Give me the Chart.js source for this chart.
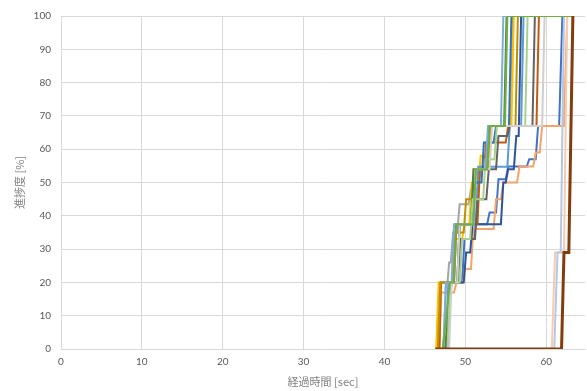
<!DOCTYPE html>
<html>
<head>
<meta charset="utf-8">
<script src="https://cdn.jsdelivr.net/npm/chart.js@4/dist/chart.umd.min.js"></script>
<style>
  html, body { margin: 0; padding: 0; background: #ffffff; }
  #wrap { width: 587px; height: 391px; }
</style>
</head>
<body>
<div id="wrap"><canvas id="c" width="587" height="391"></canvas></div>
<script>
// Axis ranges
const xMin = 0, xMax = 64.8, xStep = 10;
const yMin = 0, yMax = 100, yStep = 10;

// Progress of each run: [elapsed sec, progress %]
const run01 = [[46.3,0],[47.9,0],[48.2,20],[49.6,20],[49.9,33],[51.0,33],[51.3,37.5],[52.7,37.5],[53.0,41],[53.8,41],[54.1,51],[55.0,51],[55.3,54.8],[57.6,54.8],[57.9,57],[58.7,57],[59.0,67],[61.6,67],[62.0,100],[63.3,100]];
const run02 = [[46.3,0],[46.8,0],[47.0,17],[48.6,17],[48.9,20],[49.7,20],[50.0,24],[50.7,24],[51.0,36],[53.5,36],[53.8,45],[54.4,45],[54.7,50],[56.4,50],[56.7,54.8],[58.4,54.8],[58.7,59],[59.2,59],[59.5,67],[62.2,67],[62.6,100],[63.3,100]];
const run03 = [[46.3,0],[47.3,0],[47.6,20],[47.8,20],[48.0,26],[48.2,26],[48.5,35],[49.0,35],[49.3,43.5],[50.4,43.5],[50.7,48],[51.6,48],[51.9,54],[52.7,54],[53.0,67],[55.6,67],[55.9,100],[63.3,100]];
const run04 = [[46.3,0],[46.4,0],[46.7,20],[48.4,20],[48.7,33],[49.6,33],[49.9,37.5],[50.5,37.5],[50.8,50],[51.6,50],[51.9,58],[52.9,58],[53.2,67],[55.7,67],[56.0,100],[63.3,100]];
const run05 = [[46.3,0],[47.6,0],[47.9,20],[48.5,20],[48.8,37.5],[51.3,37.5],[51.6,54.7],[55.2,54.7],[55.5,67],[56.9,67],[57.2,100],[63.3,100]];
const run06 = [[46.3,0],[47.8,0],[48.1,20],[49.8,20],[50.1,29],[50.6,29],[50.9,37.5],[54.4,37.5],[54.7,50],[55.0,50],[55.3,54],[56.0,54],[56.3,64],[56.6,64],[56.9,100],[63.3,100]];
const run07 = [[46.3,0],[46.8,0],[47.0,20],[48.6,20],[48.9,37.5],[51.5,37.5],[51.8,54],[52.3,54],[52.6,62],[55.0,62],[55.3,67],[58.8,67],[59.1,100],[63.3,100]];
const run08 = [[46.3,0],[47.9,0],[48.2,20],[49.1,20],[49.4,33],[51.2,33],[51.5,45],[52.6,45],[52.9,54],[53.8,54],[54.1,64],[55.2,64],[55.5,67],[58.3,67],[58.6,100],[63.3,100]];
const run09 = [[46.3,0],[46.6,0],[46.9,20],[48.4,20],[48.7,35],[49.8,35],[50.1,45],[51.0,45],[51.3,54],[52.8,54],[53.1,67],[56.2,67],[56.5,100],[63.3,100]];
const run10 = [[46.3,0],[47.9,0],[48.2,20],[49.0,20],[49.3,37.5],[50.8,37.5],[51.1,50],[52.0,50],[52.3,62],[53.5,62],[53.8,67],[55.4,67],[55.7,100],[63.3,100]];
const run11 = [[46.3,0],[47.5,0],[48.3,20],[49.0,20],[49.3,37.5],[50.7,37.5],[51.0,54],[52.6,54],[52.9,67],[54.8,67],[55.1,100],[63.3,100]];
const run12 = [[46.3,0],[47.8,0],[48.1,20],[49.3,20],[49.6,33],[50.6,33],[50.9,45],[52.2,45],[52.5,57],[53.6,57],[53.9,67],[57.4,67],[57.7,100],[63.3,100]];
const run13 = [[46.3,0],[47.3,0],[47.6,20],[48.3,20],[48.6,37.5],[51.0,37.5],[51.3,54],[52.5,54],[52.8,67],[54.4,67],[54.7,100],[63.3,100]];
const run14 = [[46.3,0],[48.0,0],[48.3,20],[49.0,20],[49.3,37.5],[51.0,37.5],[51.3,54],[53.0,54],[53.3,67],[59.5,67],[59.8,100],[63.3,100]];
const run15 = [[46.3,0],[60.7,0],[61.1,29],[62.2,29],[62.6,100],[63.3,100]];
const run16 = [[46.3,0],[61.0,0],[61.4,29],[61.8,29],[62.2,100],[63.3,100]];
const run17 = [[46.3,0],[47.2,0],[48.1,20],[48.6,20],[48.9,37.5],[51.0,37.5],[51.3,54],[52.7,54],[53.0,67],[54.9,67],[55.2,100],[63.3,100]];
const run18 = [[46.3,0],[61.9,0],[62.2,29],[62.8,29],[63.3,100]];

const runs = [run01, run02, run03, run04, run05, run06, run07, run08, run09,
              run10, run11, run12, run13, run14, run15, run16, run17, run18];
const runColors = ['#4472C4', '#F4A46A', '#A5A5A5', '#FFC000', '#5B9BD5', '#2F5597',
                   '#C55A11', '#636363', '#BF9000', '#2E75B6', '#548235', '#A9D18E',
                   '#7CAFDD', '#D0CECE', '#F8CBAD', '#B4C7E7', '#70AD47', '#843C0C'];
const runWidths = [2, 2, 2, 2, 2, 2, 2, 2, 2, 2, 2, 2, 2, 2, 2, 2, 2, 3];

const xTitle = '経過時間 [sec]';
const yTitle = '進捗度 [%]';

// Later runs are painted over earlier ones (smaller order = drawn last)
const datasets = runs.map((run, i) => ({
  label: 'run' + String(i + 1).padStart(2, '0'),
  data: run.map(([x, y]) => ({ x, y })),
  borderColor: runColors[i],
  backgroundColor: runColors[i],
  borderWidth: runWidths[i],
  pointRadius: 0,
  tension: 0,
  fill: false,
  order: runs.length - i
}));

const tickFont = { family: 'Lato, "Noto Sans", sans-serif', size: 10 };
const titleFont = { family: '"Noto Sans CJK JP", sans-serif', size: 11 };
const gridColor = '#D9D9D9';

new Chart(document.getElementById('c'), {
  type: 'line',
  data: { datasets },
  options: {
    responsive: false,
    animation: false,
    layout: { padding: { top: 13, right: 2, left: 0, bottom: 0 } },
    plugins: { legend: { display: false }, tooltip: { enabled: false } },
    scales: {
      x: {
        type: 'linear',
        min: xMin, max: xMax,
        ticks: { stepSize: xStep, color: '#595959', font: tickFont, padding: 7, maxRotation: 0 },
        afterBuildTicks: (s) => { s.ticks = s.ticks.filter(t => t.value % xStep === 0); },
        afterFit: (s) => { s.height = 42; },
        grid: { color: gridColor, drawTicks: false },
        border: { color: gridColor },
        title: { display: true, text: xTitle, color: '#7F7F7F', font: titleFont, padding: { top: 0, bottom: 2.5 } }
      },
      y: {
        type: 'linear',
        min: yMin, max: yMax,
        ticks: { stepSize: yStep, color: '#595959', font: tickFont, padding: 10 },
        afterFit: (s) => { s.width = 61; },
        grid: { color: gridColor, drawTicks: false },
        border: { color: gridColor },
        title: { display: true, text: yTitle, color: '#7F7F7F', font: titleFont, padding: { top: 13.5, bottom: 0 } }
      }
    }
  }
});
</script>
</body>
</html>
